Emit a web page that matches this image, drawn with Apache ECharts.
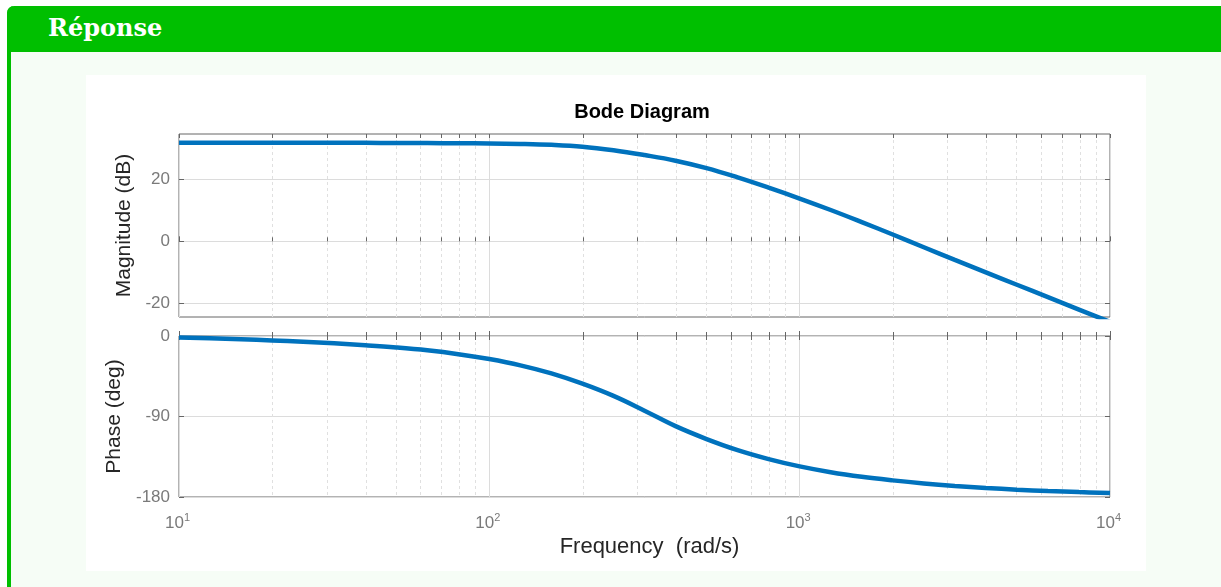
<!DOCTYPE html>
<html>
<head>
<meta charset="utf-8">
<script src="https://cdn.jsdelivr.net/npm/echarts@6/dist/echarts.min.js"></script>
<style>
  html, body { margin: 0; padding: 0; background: #ffffff; width: 1221px; height: 587px; overflow: hidden; }
  #box { position: absolute; left: 7px; top: 6px; width: 1222px; height: 620px; background: #f6fdf6;
         border-left: 4px solid #00bf00; border-radius: 7px 7px 0 0; box-sizing: border-box; }
  #head { position: absolute; left: 7px; top: 6px; width: 1222px; height: 46px; background: #00bf00;
          border-radius: 7px 7px 0 0; }
  #headText { position: absolute; left: 48px; top: 13px; font-family: "DejaVu Serif", serif; font-weight: bold;
              font-size: 24px; color: #ffffff; line-height: 30px; }
  #chart { position: absolute; left: 86px; top: 75px; width: 1060px; height: 496px; background: #ffffff; }
</style>
</head>
<body>
<div id="box"></div>
<div id="head"></div>
<div id="headText">Réponse</div>
<div id="chart"></div>
<script>
// ---- data (rad/s, dB, deg) ----
const freqs    = [10, 12.59, 15.85, 19.95, 25.12, 31.62, 39.81, 50.12, 63.1, 79.43,
                  100, 125.9, 158.5, 199.5, 251.2, 316.2, 398.1, 501.2, 631, 794.3,
                  1000, 1259, 1585, 1995, 2512, 3162, 3981, 5012, 6310, 7943, 10000];
const magDb    = [31.8, 31.8, 31.8, 31.8, 31.78, 31.76, 31.74, 31.71, 31.67, 31.62,
                  31.55, 31.4, 31.1, 30.5, 29.35, 27.8, 26.0, 23.6, 20.6, 17.3,
                  13.8, 10.1, 6.2, 2.2, -1.9, -6.0, -10.0, -14.0, -18.0, -22.0, -26.0];
const phaseDeg = [-1.7, -2.6, -3.6, -4.9, -6.4, -8.2, -10.3, -12.8, -16.0, -20.3,
                  -25.8, -32.8, -41.8, -53.3, -67.0, -83.5, -100.8, -115.2, -127.6, -137.6,
                  -145.8, -152.3, -157.4, -161.4, -164.8, -167.6, -169.9, -171.8, -173.3, -174.5, -175.5];
const majorFreqTicks = [10, 100, 1000, 10000];
const minorFreqTicks = [20, 30, 40, 50, 60, 70, 80, 90, 200, 300, 400, 500, 600, 700, 800, 900, 2000, 3000, 4000, 5000, 6000, 7000, 8000, 9000];
const magTicks = [-20, 0, 20];
const phaseTicks = [-180, -90, 0];
const titleText = 'Bode Diagram';
const magName = 'Magnitude (dB)';
const phaseName = 'Phase (deg)';
const freqName = 'Frequency  (rad/s)';

const chart = echarts.init(document.getElementById('chart'), null, { renderer: 'canvas' });
const FONT = 'Liberation Sans, Arial, sans-serif';
const TICKC = '#666666';
const LABELC = '#7a7a7a';
const MAJORGRID = '#dcdcdc';
const MINORGRID = '#e0e0e0';
const NAMEC = '#262626';

function xAxes(gridIndex, withLabels) {
  return [
    { // major, bottom
      type: 'log', logBase: 10, gridIndex, min: 10, max: 10000, position: 'bottom',
      axisLine: { show: false },
      axisTick: { show: true, inside: true, length: 5, customValues: majorFreqTicks, lineStyle: { color: TICKC, width: 1 } },
      splitLine: { show: true, lineStyle: { color: MAJORGRID, width: 1 } },
      axisLabel: withLabels ? {
        show: true, customValues: majorFreqTicks, margin: 15,
        formatter: v => '{b|10}{s|' + Math.round(Math.log10(v)) + '}',
        rich: {
          b: { fontFamily: FONT, fontSize: 17, color: LABELC },
          s: { fontFamily: FONT, fontSize: 11, color: LABELC, padding: [0, 3, 12, 0] }
        }
      } : { show: false },
      name: withLabels ? freqName : '', nameLocation: 'middle', nameGap: 39,
      nameTextStyle: { fontFamily: FONT, fontSize: 22, color: NAMEC, padding: [0, 0, 0, 10] }
    },
    { // minor, bottom
      type: 'log', logBase: 10, gridIndex, min: 10, max: 10000, position: 'bottom',
      axisLine: { show: false },
      axisTick: { show: true, inside: true, length: 4, customValues: minorFreqTicks, lineStyle: { color: TICKC, width: 1 } },
      splitLine: { show: true, lineStyle: { color: MINORGRID, width: 1, type: [3, 3] } },
      axisLabel: { show: false }
    },
    { // top ticks
      type: 'log', logBase: 10, gridIndex, min: 10, max: 10000, position: 'top',
      axisLine: { show: false },
      axisTick: { show: true, inside: true, length: 4, customValues: majorFreqTicks.concat(minorFreqTicks), lineStyle: { color: TICKC, width: 1 } },
      splitLine: { show: false },
      axisLabel: { show: false }
    }
  ];
}

function yAxes(gridIndex, min, max, ticks, name, gap) {
  return [
    {
      type: 'value', gridIndex, min, max, position: 'left',
      axisLine: { show: false },
      axisTick: { show: true, inside: true, length: 5, customValues: ticks, lineStyle: { color: TICKC, width: 1 } },
      splitLine: { show: true, lineStyle: { color: MAJORGRID, width: 1 } },
      axisLabel: { show: true, customValues: ticks, margin: 9, fontFamily: FONT, fontSize: 17, color: LABELC, padding: [6, 0, 0, 0] },
      name, nameLocation: 'middle', nameGap: gap,
      nameTextStyle: { fontFamily: FONT, fontSize: 21, color: NAMEC }
    },
    {
      type: 'value', gridIndex, min, max, position: 'right',
      axisLine: { show: false },
      axisTick: { show: true, inside: true, length: 5, customValues: ticks, lineStyle: { color: TICKC, width: 1 } },
      splitLine: { show: false },
      axisLabel: { show: false }
    }
  ];
}

const option = {
  animation: false,
  backgroundColor: '#ffffff',
  graphic: [{
    type: 'text', x: 556, y: 27, silent: true,
    style: { text: titleText, textAlign: 'center', textVerticalAlign: 'top',
             font: 'bold 20px Liberation Sans, Arial, sans-serif', fill: '#000000' }
  }],
  grid: [
    { left: 93, top: 59, width: 931, height: 183, show: true, borderColor: '#666666', borderWidth: 1, backgroundColor: 'transparent' },
    { left: 93, top: 261, width: 931, height: 161, show: true, borderColor: '#666666', borderWidth: 1, backgroundColor: 'transparent' }
  ],
  xAxis: xAxes(0, false).concat(xAxes(1, true)),
  yAxis: yAxes(0, -24.4, 34.6, magTicks, magName, 44).concat(yAxes(1, -180, 0, phaseTicks, phaseName, 46)),
  series: [
    {
      type: 'line', xAxisIndex: 0, yAxisIndex: 0, showSymbol: false, smooth: 0.4, clip: true,
      data: freqs.map((f, i) => [f, magDb[i]]),
      lineStyle: { color: '#0072BD', width: 4.5 }
    },
    {
      type: 'line', xAxisIndex: 3, yAxisIndex: 2, showSymbol: false, smooth: 0.4, clip: true,
      data: freqs.map((f, i) => [f, phaseDeg[i]]),
      lineStyle: { color: '#0072BD', width: 4.5 }
    }
  ]
};
chart.setOption(option);
</script>
</body>
</html>
